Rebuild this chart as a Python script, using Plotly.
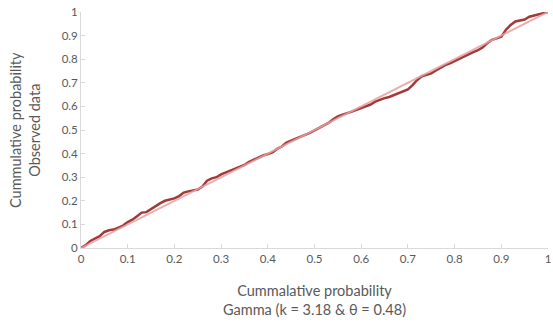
import plotly.graph_objects as go

# Theoretical cumulative probability (Gamma fit) and observed cumulative probability
gamma_cdf = [0.00, 0.01, 0.02, 0.03, 0.04, 0.05, 0.06, 0.07, 0.08, 0.09,
             0.10, 0.11, 0.12, 0.13, 0.14, 0.15, 0.16, 0.17, 0.18, 0.19,
             0.20, 0.21, 0.22, 0.23, 0.24, 0.25, 0.26, 0.27, 0.28, 0.29,
             0.30, 0.31, 0.32, 0.33, 0.34, 0.35, 0.36, 0.37, 0.38, 0.39,
             0.40, 0.41, 0.42, 0.43, 0.44, 0.45, 0.46, 0.47, 0.48, 0.49,
             0.50, 0.51, 0.52, 0.53, 0.54, 0.55, 0.56, 0.57, 0.58, 0.59,
             0.60, 0.61, 0.62, 0.63, 0.64, 0.65, 0.66, 0.67, 0.68, 0.69,
             0.70, 0.71, 0.72, 0.73, 0.74, 0.75, 0.76, 0.77, 0.78, 0.79,
             0.80, 0.81, 0.82, 0.83, 0.84, 0.85, 0.86, 0.87, 0.88, 0.89,
             0.90, 0.91, 0.92, 0.93, 0.94, 0.95, 0.96, 0.97, 0.98, 0.99, 1.00]
observed_cdf = [0.000, 0.012, 0.030, 0.040, 0.050, 0.068, 0.075, 0.078, 0.085, 0.095,
                0.110, 0.120, 0.135, 0.150, 0.152, 0.165, 0.178, 0.190, 0.200, 0.205,
                0.210, 0.220, 0.235, 0.240, 0.245, 0.248, 0.260, 0.285, 0.295, 0.300,
                0.312, 0.320, 0.328, 0.333, 0.343, 0.352, 0.365, 0.375, 0.385, 0.392,
                0.398, 0.405, 0.420, 0.430, 0.447, 0.455, 0.462, 0.470, 0.478, 0.488,
                0.498, 0.508, 0.518, 0.530, 0.545, 0.558, 0.565, 0.570, 0.578, 0.585,
                0.592, 0.600, 0.608, 0.620, 0.628, 0.635, 0.640, 0.648, 0.655, 0.662,
                0.672, 0.690, 0.712, 0.728, 0.735, 0.740, 0.752, 0.765, 0.775, 0.782,
                0.792, 0.800, 0.810, 0.820, 0.830, 0.838, 0.850, 0.868, 0.882, 0.888,
                0.895, 0.925, 0.945, 0.960, 0.965, 0.968, 0.980, 0.985, 0.990, 0.995, 1.000]
ref_x = [0, 1]
ref_y = [0, 1]
tick_vals = [0, 0.1, 0.2, 0.3, 0.4, 0.5, 0.6, 0.7, 0.8, 0.9, 1]
tick_text = ["0", "0.1", "0.2", "0.3", "0.4", "0.5", "0.6", "0.7", "0.8", "0.9", "1"]

x_title = "Cummalative probability<br>Gamma (k = 3.18 & θ = 0.48)"
y_title = "Cummulative probability<br>Observed data"

font_family = "Lato, 'Open Sans', sans-serif"
text_color = "#595959"

fig = go.Figure()
fig.add_trace(go.Scatter(x=gamma_cdf, y=observed_cdf, mode="lines",
                         line=dict(color="#A23A3A", width=2.5), showlegend=False))
fig.add_trace(go.Scatter(x=ref_x, y=ref_y, mode="lines",
                         line=dict(color="rgba(230,160,160,0.85)", width=2), showlegend=False))

axis_common = dict(
    range=[0, 1], tickvals=tick_vals, ticktext=tick_text,
    showgrid=False, zeroline=False, showline=True, linecolor="#D9D9D9", linewidth=1,
    ticks="inside", ticklen=4, tickcolor="#D9D9D9",
    tickfont=dict(family=font_family, size=11.5, color=text_color),
    fixedrange=True, automargin=False, ticklabeloverflow="allow",
)
fig.update_xaxes(**axis_common)
fig.update_yaxes(**axis_common)

W, H = 553, 324
L, R, T, B = 81, 5, 12, 76
pw, ph = W - L - R, H - T - B

fig.update_layout(
    width=W, height=H,
    margin=dict(l=L, r=R, t=T, b=B),
    plot_bgcolor="white", paper_bgcolor="white",
    font=dict(family=font_family, color=text_color),
    annotations=[
        dict(text=x_title, x=0.5, y=(248 - 300) / ph, xref="paper", yref="paper",
             xanchor="center", yanchor="middle", showarrow=False,
             font=dict(family=font_family, size=14.5, color=text_color)),
        dict(text=y_title, x=(25 - 81) / pw, y=0.5, xref="paper", yref="paper",
             xanchor="center", yanchor="middle", showarrow=False, textangle=-90,
             font=dict(family=font_family, size=14.5, color=text_color)),
    ],
)

fig.write_html("out.html", config={"displayModeBar": False, "staticPlot": True},
               post_script="document.body.style.margin='0';document.body.style.overflow='hidden';")
